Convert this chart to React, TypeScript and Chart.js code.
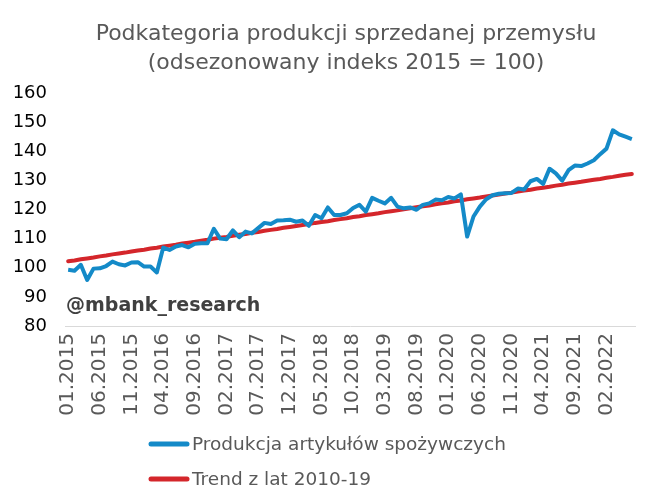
import React, { useEffect, useRef } from "react";
import { Chart, registerables } from "chart.js";

Chart.register(...registerables);

const TITLE_LINES = ["Podkategoria produkcji sprzedanej przemysłu", "(odsezonowany indeks 2015 = 100)"];
const WATERMARK = "@mbank_research";
const SERIES_NAMES = ["Produkcja artykułów spożywczych", "Trend z lat 2010-19"];

const MONTHS: string[] = [
  "01.2015", "02.2015", "03.2015", "04.2015", "05.2015", "06.2015", "07.2015", "08.2015", "09.2015", "10.2015", "11.2015", "12.2015",
  "01.2016", "02.2016", "03.2016", "04.2016", "05.2016", "06.2016", "07.2016", "08.2016", "09.2016", "10.2016", "11.2016", "12.2016",
  "01.2017", "02.2017", "03.2017", "04.2017", "05.2017", "06.2017", "07.2017", "08.2017", "09.2017", "10.2017", "11.2017", "12.2017",
  "01.2018", "02.2018", "03.2018", "04.2018", "05.2018", "06.2018", "07.2018", "08.2018", "09.2018", "10.2018", "11.2018", "12.2018",
  "01.2019", "02.2019", "03.2019", "04.2019", "05.2019", "06.2019", "07.2019", "08.2019", "09.2019", "10.2019", "11.2019", "12.2019",
  "01.2020", "02.2020", "03.2020", "04.2020", "05.2020", "06.2020", "07.2020", "08.2020", "09.2020", "10.2020", "11.2020", "12.2020",
  "01.2021", "02.2021", "03.2021", "04.2021", "05.2021", "06.2021", "07.2021", "08.2021", "09.2021", "10.2021", "11.2021", "12.2021",
  "01.2022", "02.2022", "03.2022", "04.2022", "05.2022", "06.2022",
];

const FOOD: number[] = [
  99.3, 99.0, 101.0, 95.8, 99.7, 99.8, 100.6, 102.1, 101.2, 100.8,
  101.8, 101.9, 100.4, 100.4, 98.4, 106.9, 106.1, 107.3, 107.8, 107.0,
  108.2, 108.4, 108.4, 113.4, 110.0, 109.8, 112.8, 110.5, 112.4, 111.8,
  113.6, 115.4, 115.0, 116.2, 116.3, 116.5, 115.8, 116.2, 114.4, 118.1,
  117.0, 120.7, 118.1, 118.1, 118.7, 120.5, 121.6, 119.3, 124.0, 123.0,
  122.1, 124.0, 121.0, 120.4, 120.7, 119.9, 121.6, 122.1, 123.4, 123.2,
  124.3, 123.8, 125.2, 110.7, 117.6, 121.0, 123.5, 124.9, 125.4, 125.6,
  125.7, 127.2, 126.9, 129.7, 130.5, 128.8, 134.0, 132.4, 129.9, 133.5,
  135.1, 134.9, 135.8, 136.9, 139.0, 140.9, 147.2, 145.8, 145.0, 144.2,
];

const TREND: number[] = [
  102.2, 102.5, 102.9, 103.2, 103.5, 103.9, 104.2, 104.6, 104.9, 105.2,
  105.6, 105.9, 106.2, 106.6, 106.9, 107.3, 107.6, 107.9, 108.3, 108.6,
  108.9, 109.3, 109.6, 110.0, 110.3, 110.6, 111.0, 111.3, 111.6, 112.0,
  112.3, 112.7, 113.0, 113.3, 113.7, 114.0, 114.3, 114.7, 115.0, 115.4,
  115.7, 116.0, 116.4, 116.7, 117.0, 117.4, 117.7, 118.1, 118.4, 118.7,
  119.1, 119.4, 119.7, 120.1, 120.4, 120.8, 121.1, 121.4, 121.8, 122.1,
  122.4, 122.8, 123.1, 123.5, 123.8, 124.1, 124.5, 124.8, 125.1, 125.5,
  125.8, 126.2, 126.5, 126.8, 127.2, 127.5, 127.8, 128.2, 128.5, 128.9,
  129.2, 129.5, 129.9, 130.2, 130.5, 130.9, 131.2, 131.6, 131.9, 132.2,
];

const Y_MIN = 80;
const Y_MAX = 160;
const Y_STEP = 10;
const LABEL_EVERY = 5;

const BLUE = "#148AC8";
const RED = "#D4262B";
const GREY_TEXT = "#595959";
const FONT = "'DejaVu Sans', Verdana, sans-serif";

const overlayPlugin = {
  id: "overlay",
  afterDraw(chart: any) {
    const ctx = chart.ctx as CanvasRenderingContext2D;
    const area = chart.chartArea;
    ctx.save();
    // title
    ctx.fillStyle = GREY_TEXT;
    ctx.font = `22px ${FONT}`;
    ctx.textAlign = "center";
    ctx.textBaseline = "middle";
    ctx.fillText(TITLE_LINES[0], 346, 34);
    ctx.fillText(TITLE_LINES[1], 346, 63);
    // watermark
    ctx.fillStyle = "#404040";
    ctx.font = `bold 19px ${FONT}`;
    ctx.textAlign = "left";
    ctx.fillText(WATERMARK, area.left + 1, 306);
    // legend
    const colors = [BLUE, RED];
    const ys = [444, 479];
    ctx.font = `18.5px ${FONT}`;
    ctx.lineCap = "round";
    for (let k = 0; k < 2; k++) {
      ctx.strokeStyle = colors[k];
      ctx.lineWidth = 5;
      ctx.beginPath();
      ctx.moveTo(151, ys[k]);
      ctx.lineTo(187, ys[k]);
      ctx.stroke();
      ctx.fillStyle = GREY_TEXT;
      ctx.fillText(SERIES_NAMES[k], 192, ys[k] + 1);
    }
    ctx.restore();
  },
};

export default function App() {
  const ref = useRef<HTMLCanvasElement>(null);
  useEffect(() => {
    if (!ref.current) return;
    const chart = new Chart(ref.current, {
      type: "line",
      data: {
        labels: MONTHS,
        datasets: [
          {
            label: SERIES_NAMES[0],
            data: FOOD,
            borderColor: BLUE,
            backgroundColor: BLUE,
            borderWidth: 4,
            pointRadius: 0,
            tension: 0,
            borderJoinStyle: "round",
          },
          {
            label: SERIES_NAMES[1],
            data: TREND,
            borderColor: RED,
            backgroundColor: RED,
            borderWidth: 4,
            pointRadius: 0,
            tension: 0,
            borderCapStyle: "round",
          },
        ],
      },
      options: {
        responsive: false,
        animation: false,
        layout: { padding: { top: 93, right: 20, bottom: 70, left: 0 } },
        plugins: {
          legend: { display: false },
          title: { display: false },
          tooltip: { enabled: false },
        },
        scales: {
          x: {
            type: "category",
            offset: true,
            grid: { display: false, drawTicks: false },
            border: { display: true, color: "#D9D9D9", width: 1 },
            ticks: {
              autoSkip: false,
              maxRotation: 90,
              minRotation: 90,
              padding: 7,
              color: GREY_TEXT,
              font: { family: FONT, size: 20 },
              callback: (_v: any, i: number) => (i % LABEL_EVERY === 0 ? MONTHS[i] : ""),
            },
            afterFit: (s: any) => {
              s.height = 108;
              s.paddingLeft = 0;
              s.paddingRight = 0;
            },
          },
          y: {
            min: Y_MIN,
            max: Y_MAX,
            grid: { display: false, drawTicks: false },
            border: { display: false },
            ticks: {
              stepSize: Y_STEP,
              padding: 18,
              color: "#000000",
              font: { family: FONT, size: 18 },
            },
            afterFit: (s: any) => {
              s.width = 65;
            },
          },
        },
      },
      plugins: [overlayPlugin],
    });
    return () => chart.destroy();
  }, []);
  return (
    <div style={{ position: "absolute", left: 0, top: 0, width: 655, height: 504, background: "#fff" }}>
      <canvas ref={ref} width={655} height={504} />
    </div>
  );
}
